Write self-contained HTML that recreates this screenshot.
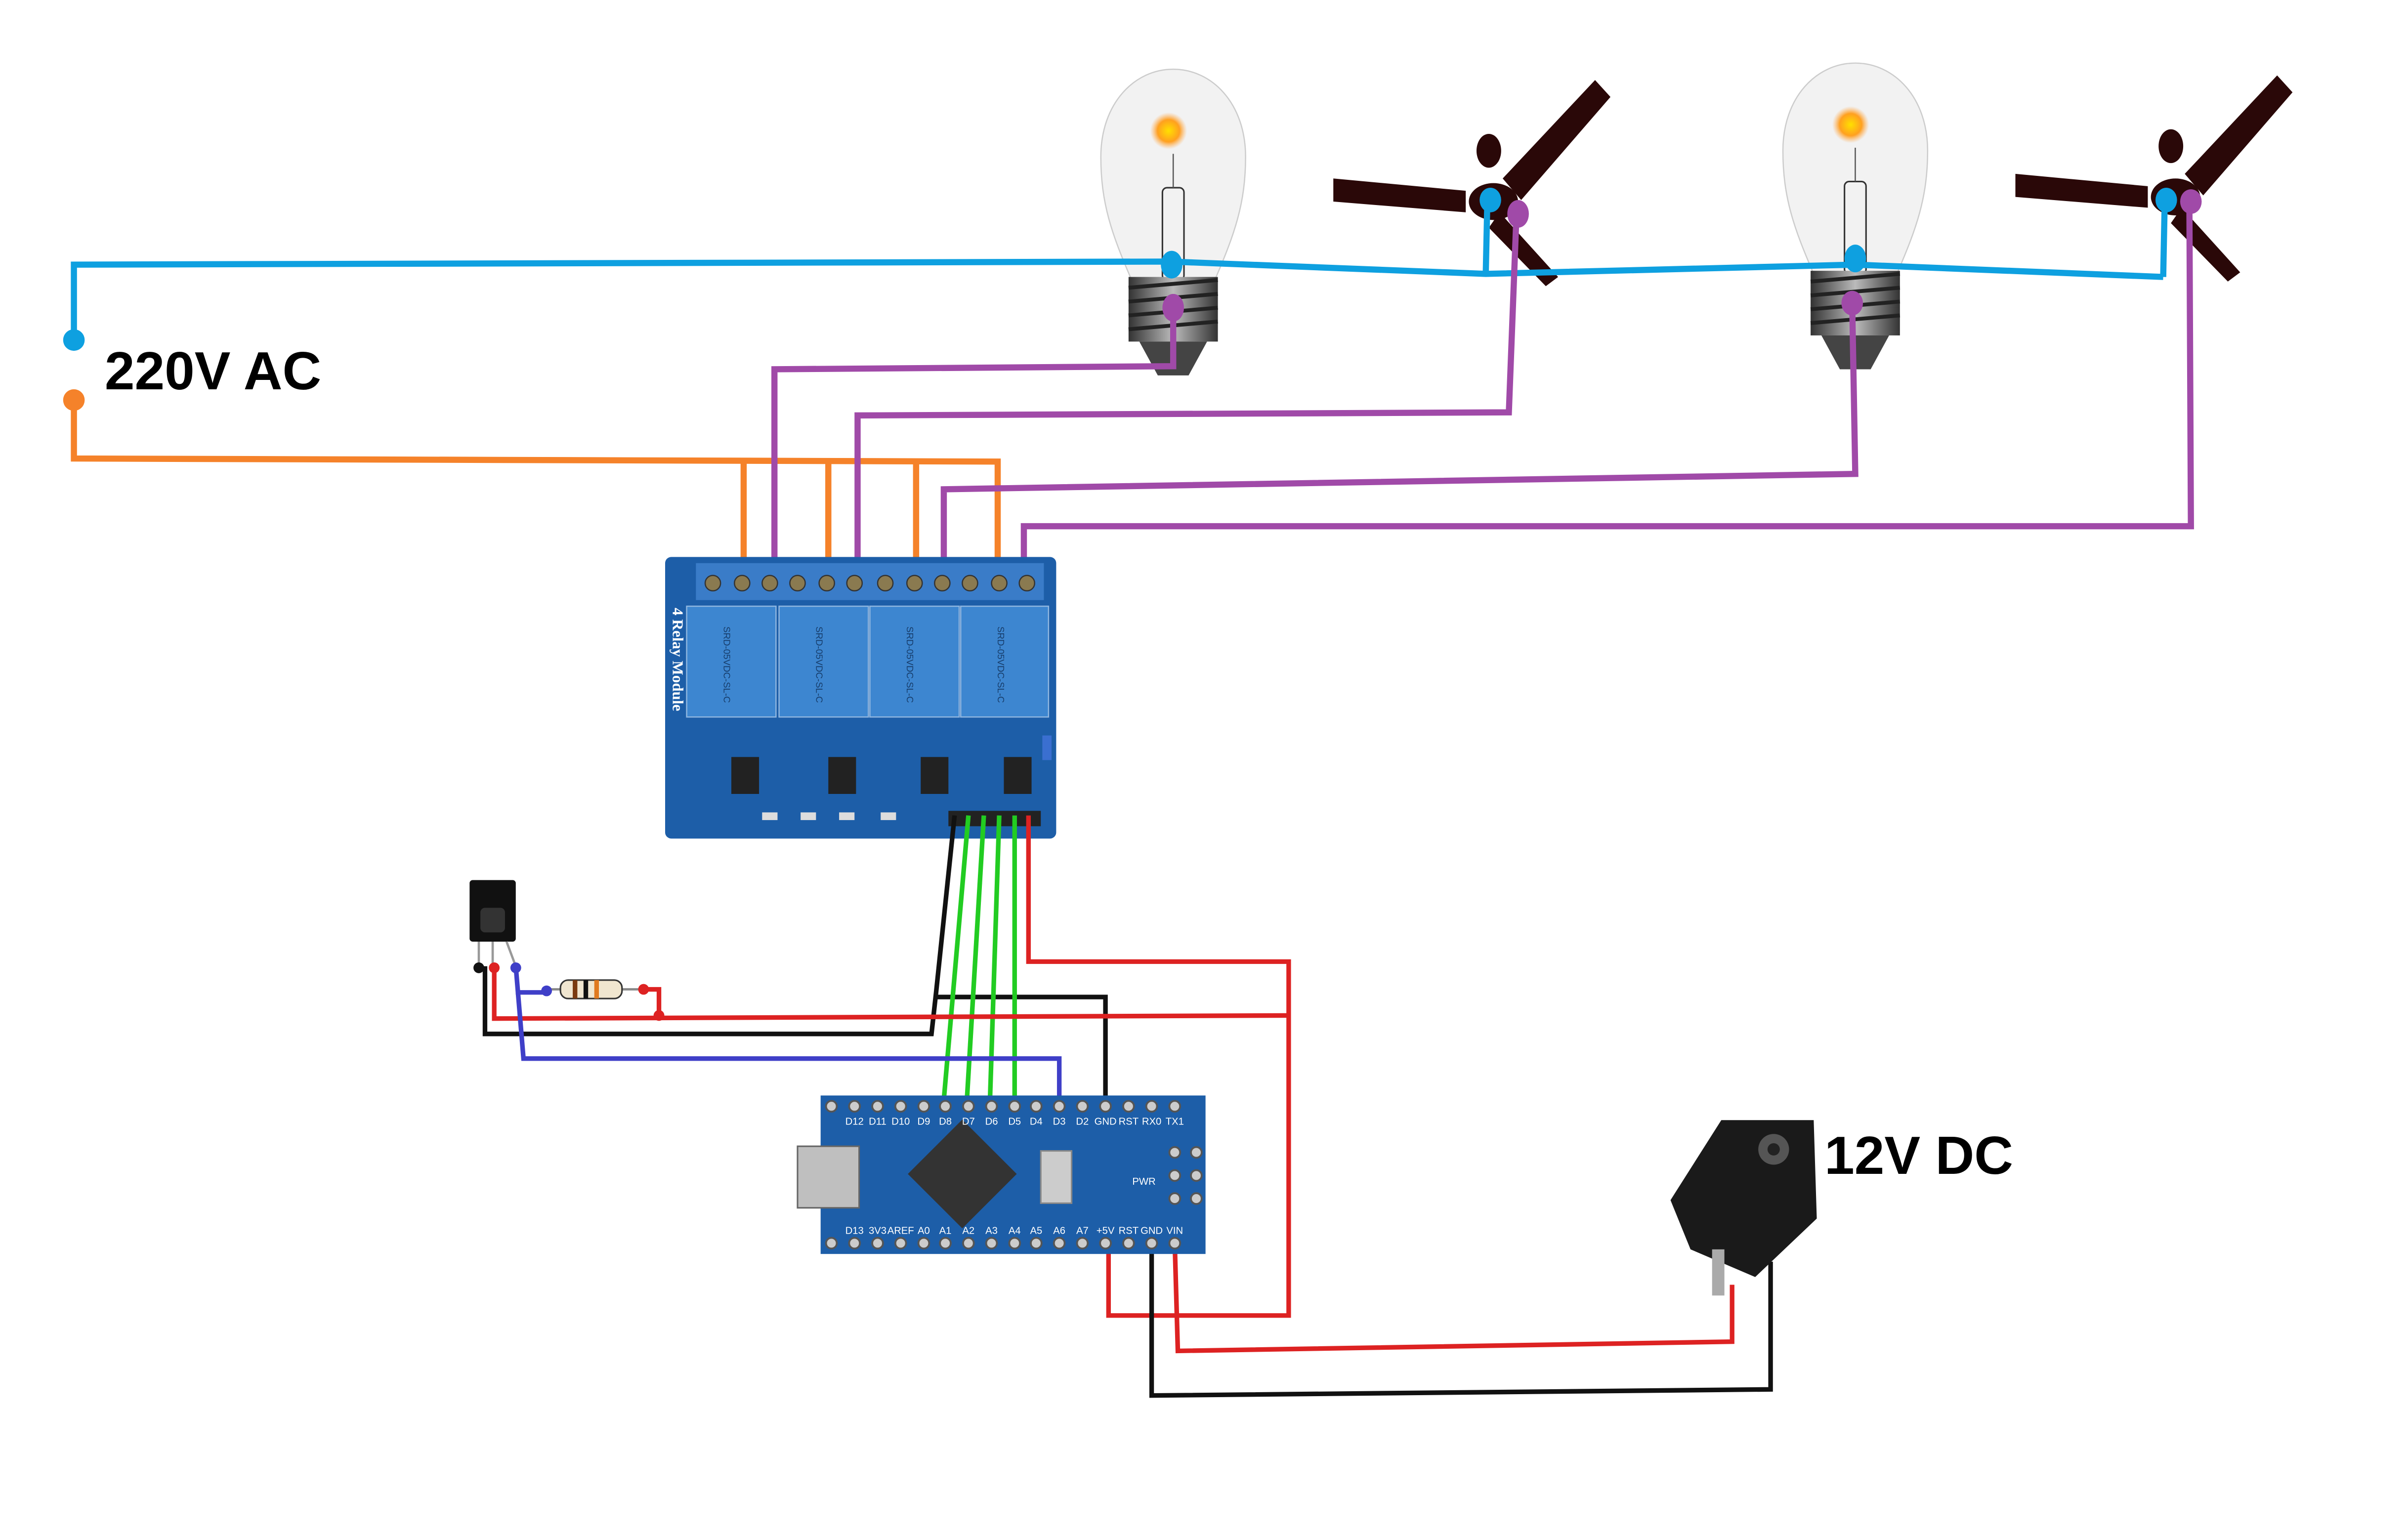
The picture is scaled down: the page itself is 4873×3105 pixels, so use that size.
<!DOCTYPE html>
<html><head><meta charset="utf-8"><style>
html,body{margin:0;padding:0;background:#fff;}
svg{display:block;}
</style></head><body>
<svg width="4873" height="3105" viewBox="0 0 1564 997" preserveAspectRatio="none" xmlns="http://www.w3.org/2000/svg" font-family="Liberation Sans, sans-serif">
<defs>
<radialGradient id="glow"><stop offset="0" stop-color="#ffe000"/><stop offset="0.6" stop-color="#ffa020"/><stop offset="1" stop-color="#ffb060" stop-opacity="0"/></radialGradient>
<linearGradient id="screw" x1="0" x2="1"><stop offset="0" stop-color="#333"/><stop offset="0.5" stop-color="#bbb"/><stop offset="1" stop-color="#333"/></linearGradient>
<g id="bulb">
<path d="M-27,90 C-40,60 -47,40 -47,10 C-47,-25 -25,-47 0,-47 C25,-47 47,-25 47,10 C47,40 40,60 27,90 Z" fill="#f2f2f2" stroke="#ccc" stroke-width="0.8"/>
<circle cx="-3" cy="-7" r="12" fill="url(#glow)"/>
<rect x="-7" y="30" width="14" height="60" rx="3" fill="none" stroke="#333" stroke-width="1"/>
<line x1="0" y1="8" x2="0" y2="30" stroke="#555" stroke-width="0.8"/>
<rect x="-29" y="88" width="58" height="42" fill="url(#screw)"/>
<g stroke="#222" stroke-width="2.5" fill="none">
<path d="M-29,95 L29,90"/><path d="M-29,104 L29,99"/><path d="M-29,113 L29,108"/><path d="M-29,122 L29,117"/>
</g>
<path d="M-22,130 L22,130 L10,152 L-10,152 Z" fill="#444"/>
</g>
<g id="fan">
<path d="M-96,-12 L-10,-4 L-10,10 L-96,3 Z" fill="#2a0808"/>
<path d="M14,-12 L74,-76 L84,-65 L26,2 Z" fill="#2a0808"/>
<path d="M12,10 L50,52 L42,58 L5,20 Z" fill="#2a0808"/>
<ellipse cx="5" cy="-30" rx="8" ry="11" fill="#2a0808"/>
<ellipse cx="8" cy="3" rx="16" ry="12" fill="#2a0808"/>
</g>
</defs>

<use href="#bulb" x="762" y="92"/>
<use href="#bulb" x="1205" y="88"/>
<use href="#fan" x="962" y="128"/>
<use href="#fan" x="1405" y="125"/>

<g fill="none" stroke="#0ea0e0" stroke-width="4">
<polyline points="48,220 48,172 760,170 965,178 1205,172 1405,180"/>
<polyline points="965,178 966,132"/>
<polyline points="1405,180 1406,130"/>
</g>
<g fill="#0ea0e0">
<circle cx="48" cy="221" r="7"/><ellipse cx="761" cy="172" rx="7" ry="9"/><ellipse cx="1205" cy="168" rx="7" ry="9"/>
<ellipse cx="968" cy="130" rx="7" ry="8"/><ellipse cx="1407" cy="130" rx="7" ry="8"/>
</g>

<g fill="none" stroke="#f5822a" stroke-width="4">
<polyline points="48,260 48,298 648,300 648,378"/>
<line x1="483" y1="298" x2="483" y2="378"/>
<line x1="538" y1="299" x2="538" y2="378"/>
<line x1="595" y1="299" x2="595" y2="378"/>
</g>
<circle cx="48" cy="260" r="7" fill="#f5822a"/>

<g fill="none" stroke="#a04aa8" stroke-width="4">
<polyline points="762,200 762,238 503,240 503,378"/>
<polyline points="985,138 980,268 557,270 557,378"/>
<polyline points="1203,197 1205,308 613,318 613,378"/>
<polyline points="1422,130 1423,342 665,342 665,378"/>
</g>
<g fill="#a04aa8">
<ellipse cx="762" cy="200" rx="7" ry="9"/><ellipse cx="986" cy="139" rx="7" ry="9"/>
<ellipse cx="1203" cy="197" rx="7" ry="8"/><ellipse cx="1423" cy="131" rx="7" ry="8"/>
</g>

<rect x="432" y="362" width="254" height="183" rx="4" fill="#1d5ea8"/>
<rect x="452" y="366" width="226" height="24" fill="#3a7cc8"/>
<g fill="#8a7a50" stroke="#333" stroke-width="0.8">
<circle cx="463" cy="379" r="5"/><circle cx="482" cy="379" r="5"/><circle cx="500" cy="379" r="5"/><circle cx="518" cy="379" r="5"/><circle cx="537" cy="379" r="5"/><circle cx="555" cy="379" r="5"/>
<circle cx="575" cy="379" r="5"/><circle cx="594" cy="379" r="5"/><circle cx="612" cy="379" r="5"/><circle cx="630" cy="379" r="5"/><circle cx="649" cy="379" r="5"/><circle cx="667" cy="379" r="5"/>
</g>
<g fill="#3d86d0" stroke="#8fb6e0" stroke-width="0.8">
<rect x="446" y="394" width="58" height="72"/><rect x="506" y="394" width="58" height="72"/><rect x="565" y="394" width="58" height="72"/><rect x="624" y="394" width="57" height="72"/>
</g>
<g fill="#163c6a" font-size="6">
<text x="470" y="432" transform="rotate(90 470 432)" text-anchor="middle">SRD-05VDC-SL-C</text>
<text x="530" y="432" transform="rotate(90 530 432)" text-anchor="middle">SRD-05VDC-SL-C</text>
<text x="589" y="432" transform="rotate(90 589 432)" text-anchor="middle">SRD-05VDC-SL-C</text>
<text x="648" y="432" transform="rotate(90 648 432)" text-anchor="middle">SRD-05VDC-SL-C</text>
</g>
<text x="437" y="395" transform="rotate(90 437 395)" fill="#fff" font-family="Liberation Serif, serif" font-weight="bold" font-size="10">4 Relay Module</text>
<g fill="#222">
<rect x="475" y="492" width="18" height="24"/><rect x="538" y="492" width="18" height="24"/><rect x="598" y="492" width="18" height="24"/><rect x="652" y="492" width="18" height="24"/>
</g>
<g fill="#ddd">
<rect x="495" y="528" width="10" height="5"/><rect x="520" y="528" width="10" height="5"/><rect x="545" y="528" width="10" height="5"/><rect x="572" y="528" width="10" height="5"/>
</g>
<rect x="616" y="527" width="60" height="10" fill="#222"/>
<rect x="677" y="478" width="6" height="16" fill="#3a6fd0"/>

<g fill="none" stroke-width="3">
<polyline stroke="#111" points="620,530 608,645 605,672 315,672 315,628"/>
<polyline stroke="#111" points="608,648 718,648 718,718"/>
<polyline stroke="#22cc22" points="629,530 613,715"/>
<polyline stroke="#22cc22" points="639,530 628,715"/>
<polyline stroke="#22cc22" points="649,530 643,715"/>
<polyline stroke="#22cc22" points="659,530 659,715"/>
<polyline stroke="#dd2222" points="668,530 668,625 837,625 837,855 720,855 720,808"/>
<polyline stroke="#dd2222" points="321,628 321,662 837,660"/>
<polyline stroke="#dd2222" points="418,643 428,643 428,661"/>
<polyline stroke="#3f3fc8" points="335,628 340,688 688,688 688,718"/>
<polyline stroke="#3f3fc8" points="335,645 355,645"/>
<polyline stroke="#dd2222" points="763,808 765,878 1125,872 1125,835"/>
<polyline stroke="#111" points="748,808 748,907 1150,903 1150,820"/>
</g>

<rect x="305" y="572" width="30" height="40" rx="2" fill="#111"/>
<rect x="312" y="590" width="16" height="16" rx="3" fill="#333"/>
<g stroke="#999" stroke-width="1.5"><line x1="311" y1="612" x2="311" y2="628"/><line x1="320" y1="612" x2="320" y2="628"/><line x1="329" y1="612" x2="335" y2="628"/></g>
<circle cx="311" cy="629" r="3.5" fill="#111"/><circle cx="321" cy="629" r="3.5" fill="#dd2222"/><circle cx="335" cy="629" r="3.5" fill="#3f3fc8"/>
<line x1="355" y1="643" x2="418" y2="643" stroke="#888" stroke-width="1.5"/>
<rect x="364" y="637" width="40" height="12" rx="5" fill="#f0e6d0" stroke="#333"/>
<rect x="372" y="637" width="3" height="12" fill="#7a3a10"/><rect x="379" y="637" width="3" height="12" fill="#111"/><rect x="386" y="637" width="3" height="12" fill="#e07a20"/>
<circle cx="355" cy="644" r="3.5" fill="#3f3fc8"/><circle cx="418" cy="643" r="3.5" fill="#dd2222"/><circle cx="428" cy="660" r="3.5" fill="#dd2222"/>

<rect x="533" y="712" width="250" height="103" fill="#1d5ea8"/>
<rect x="518" y="745" width="40" height="40" fill="#bfbfbf" stroke="#666"/>
<rect x="600" y="738" width="50" height="50" fill="#333" transform="rotate(45 625 763)"/>
<rect x="676" y="748" width="20" height="34" fill="#ccc" stroke="#888"/>
<g fill="#ccc" stroke="#555" stroke-width="1.2">
<circle cx="540" cy="719" r="3.5"/><circle cx="555" cy="719" r="3.5"/><circle cx="570" cy="719" r="3.5"/><circle cx="585" cy="719" r="3.5"/><circle cx="600" cy="719" r="3.5"/><circle cx="614" cy="719" r="3.5"/><circle cx="629" cy="719" r="3.5"/><circle cx="644" cy="719" r="3.5"/><circle cx="659" cy="719" r="3.5"/><circle cx="673" cy="719" r="3.5"/><circle cx="688" cy="719" r="3.5"/><circle cx="703" cy="719" r="3.5"/><circle cx="718" cy="719" r="3.5"/><circle cx="733" cy="719" r="3.5"/><circle cx="748" cy="719" r="3.5"/><circle cx="763" cy="719" r="3.5"/>
<circle cx="540" cy="808" r="3.5"/><circle cx="555" cy="808" r="3.5"/><circle cx="570" cy="808" r="3.5"/><circle cx="585" cy="808" r="3.5"/><circle cx="600" cy="808" r="3.5"/><circle cx="614" cy="808" r="3.5"/><circle cx="629" cy="808" r="3.5"/><circle cx="644" cy="808" r="3.5"/><circle cx="659" cy="808" r="3.5"/><circle cx="673" cy="808" r="3.5"/><circle cx="688" cy="808" r="3.5"/><circle cx="703" cy="808" r="3.5"/><circle cx="718" cy="808" r="3.5"/><circle cx="733" cy="808" r="3.5"/><circle cx="748" cy="808" r="3.5"/><circle cx="763" cy="808" r="3.5"/>
<circle cx="763" cy="749" r="3.5"/><circle cx="777" cy="749" r="3.5"/><circle cx="763" cy="764" r="3.5"/><circle cx="777" cy="764" r="3.5"/><circle cx="763" cy="779" r="3.5"/><circle cx="777" cy="779" r="3.5"/>
</g>
<g fill="#fff" font-size="6.5" text-anchor="middle">
<text x="555" y="731">D12</text><text x="570" y="731">D11</text><text x="585" y="731">D10</text><text x="600" y="731">D9</text><text x="614" y="731">D8</text><text x="629" y="731">D7</text><text x="644" y="731">D6</text><text x="659" y="731">D5</text><text x="673" y="731">D4</text><text x="688" y="731">D3</text><text x="703" y="731">D2</text><text x="718" y="731">GND</text><text x="733" y="731">RST</text><text x="748" y="731">RX0</text><text x="763" y="731">TX1</text>
<text x="555" y="802">D13</text><text x="570" y="802">3V3</text><text x="585" y="802">AREF</text><text x="600" y="802">A0</text><text x="614" y="802">A1</text><text x="629" y="802">A2</text><text x="644" y="802">A3</text><text x="659" y="802">A4</text><text x="673" y="802">A5</text><text x="688" y="802">A6</text><text x="703" y="802">A7</text><text x="718" y="802">+5V</text><text x="733" y="802">RST</text><text x="748" y="802">GND</text><text x="763" y="802">VIN</text>
<text x="743" y="770">PWR</text>
</g>

<path d="M1118,728 L1178,728 L1180,792 L1140,830 L1098,812 L1085,780 Z" fill="#1a1a1a"/>
<circle cx="1152" cy="747" r="10" fill="#555"/><circle cx="1152" cy="747" r="4" fill="#222"/>
<rect x="1112" y="812" width="8" height="30" fill="#aaa"/>

<text x="68" y="253" font-size="35" font-weight="bold" fill="#000">220V AC</text>
<text x="1185" y="763" font-size="35" font-weight="bold" fill="#000">12V DC</text>
</svg>
</body></html>
